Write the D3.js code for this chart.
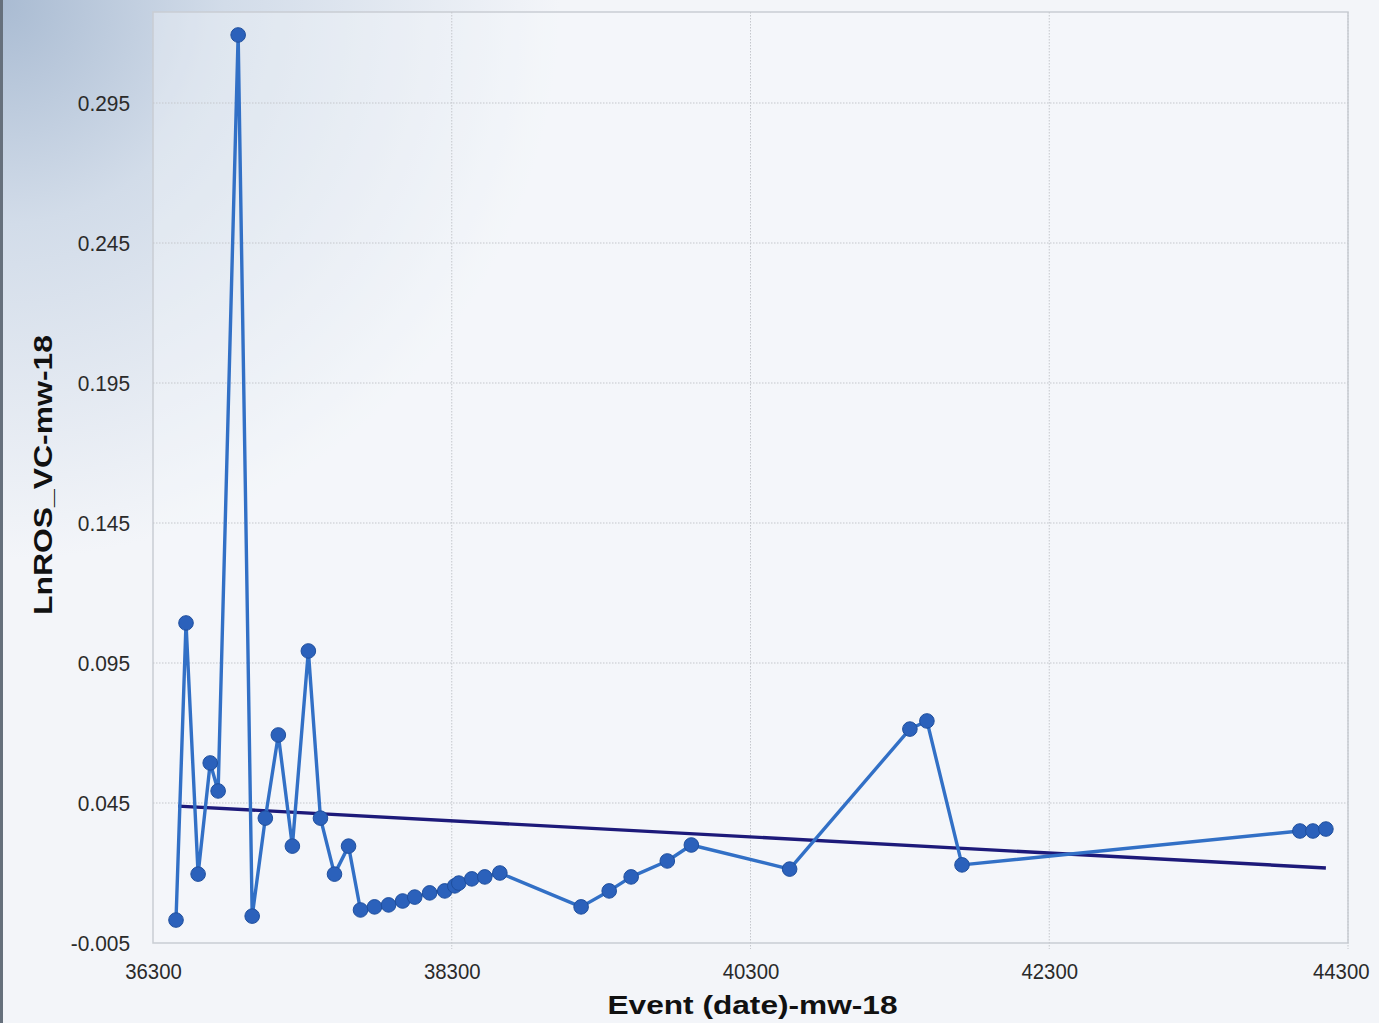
<!DOCTYPE html>
<html>
<head>
<meta charset="utf-8">
<script src="https://cdn.jsdelivr.net/npm/d3@7"></script>
<style>
  html, body { margin: 0; padding: 0; background: #f3f5f9; }
  svg { display: block; }
</style>
</head>
<body>
<svg id="chart" width="1379" height="1023"></svg>
<script>
// Event dates (serial day numbers) and LnROS_VC values, in event order
const eventDates = [
  36454, 36521, 36602, 36683, 36736, 36870, 36964, 37052, 37139, 37233,
  37340, 37421, 37515, 37609, 37689, 37783, 37877, 37971, 38052, 38152,
  38253, 38320, 38347, 38434, 38521, 38622, 39166, 39354, 39501, 39743,
  39904, 40562, 41367, 41481, 41716, 43978, 44065, 44152
];
const lnRosValues = [
  0.0032, 0.1093, 0.0196, 0.0593, 0.0493, 0.3193, 0.0046, 0.0396, 0.0693, 0.0296,
  0.0993, 0.0396, 0.0196, 0.0296, 0.0068, 0.0079, 0.0086, 0.0100, 0.0114, 0.0129,
  0.0136, 0.0154, 0.0164, 0.0179, 0.0186, 0.0200, 0.0079, 0.0136, 0.0186, 0.0243,
  0.0300, 0.0214, 0.0714, 0.0743, 0.0229, 0.0350, 0.0350, 0.0357
];
// Linear trend: start and end of the fitted line
const trendDates = [36468, 44152];
const trendValues = [0.0439, 0.0218];

const xTicks = [36300, 38300, 40300, 42300, 44300];
const yTicks = [-0.005, 0.045, 0.095, 0.145, 0.195, 0.245, 0.295];

const xTitle = "Event (date)-mw-18";
const yTitle = "LnROS_VC-mw-18";

const W = 1379, H = 1023;
const plot = { left: 153, top: 12, right: 1348, bottom: 943 };

const svg = d3.select("#chart");
const defs = svg.append("defs");

// soft bluish glow in the upper-left corner of the panel
const grad = defs.append("radialGradient")
  .attr("id", "corner").attr("gradientUnits", "userSpaceOnUse")
  .attr("cx", 0).attr("cy", 0).attr("r", 560);
grad.append("stop").attr("offset", "0%").attr("stop-color", "#a9bbd2");
grad.append("stop").attr("offset", "40%").attr("stop-color", "#d2dce9");
grad.append("stop").attr("offset", "100%").attr("stop-color", "#f3f5f9");

svg.append("rect").attr("width", W).attr("height", H).attr("fill", "#f3f5f9");
svg.append("rect").attr("width", W).attr("height", H).attr("fill", "url(#corner)");
svg.append("rect").attr("x", 0).attr("y", 0).attr("width", 3).attr("height", H).attr("fill", "#66707c");

const x = d3.scaleLinear().domain([36300, 44300]).range([plot.left, plot.right]);
const y = d3.scaleLinear().domain([-0.005, 0.3275]).range([plot.bottom, plot.top]);

// plot frame
svg.append("rect")
  .attr("x", plot.left).attr("y", plot.top)
  .attr("width", plot.right - plot.left).attr("height", plot.bottom - plot.top)
  .attr("fill", "#f6f8fb").attr("fill-opacity", 0.35)
  .attr("stroke", "#c9cdd3").attr("stroke-width", 1.5);

// grid lines
const grid = svg.append("g");
grid.selectAll("line.h").data(yTicks.slice(1)).join("line")
  .attr("x1", plot.left).attr("x2", plot.right)
  .attr("y1", d => y(d)).attr("y2", d => y(d))
  .attr("stroke", "#c4c7cc").attr("stroke-width", 1).attr("stroke-dasharray", "1.5,1.5");
grid.selectAll("line.v").data(xTicks.slice(1)).join("line")
  .attr("y1", plot.top).attr("y2", plot.bottom + 6)
  .attr("x1", d => x(d)).attr("x2", d => x(d))
  .attr("stroke", "#c4c7cc").attr("stroke-width", 1).attr("stroke-dasharray", "1.5,1.5");

// axes (labels only, no domain path); labels use a condensed setting
const fmtY = d => d.toFixed(3);
const fmtX = d => String(d);
const labelWidth = s => Array.from(s).reduce((w, c) => w + (/[0-9]/.test(c) ? 11.3 : 7), 0);

const yAxis = svg.append("g").attr("transform", `translate(${plot.left - 20},0)`)
  .call(d3.axisLeft(y).tickValues(yTicks).tickFormat(fmtY).tickSize(0));
const xAxis = svg.append("g").attr("transform", `translate(0,${plot.bottom + 19})`)
  .call(d3.axisBottom(x).tickValues(xTicks).tickFormat(fmtX).tickSize(0));
[yAxis, xAxis].forEach(a => {
  a.select(".domain").remove();
  a.selectAll("text")
    .attr("font-family", "'Liberation Sans', Arial, sans-serif").attr("font-size", 22)
    .attr("fill", "#2a2a2a")
    .attr("textLength", function () { return labelWidth(this.textContent); })
    .attr("lengthAdjust", "spacingAndGlyphs");
});
xAxis.selectAll("text").attr("dy", "0.32em").attr("y", 10);
// the last date label is pulled in so it stays inside the panel
xAxis.selectAll(".tick").filter(d => d === xTicks[xTicks.length - 1]).select("text")
  .attr("text-anchor", "end").attr("x", W - 10 - x(xTicks[xTicks.length - 1]));

// axis titles
svg.append("text")
  .attr("x", (plot.left + plot.right) / 2 + 2).attr("y", 1014)
  .attr("text-anchor", "middle")
  .attr("font-family", "'Liberation Sans', Arial, sans-serif").attr("font-weight", "bold")
  .attr("font-size", 26).attr("fill", "#111")
  .attr("textLength", 290).attr("lengthAdjust", "spacingAndGlyphs")
  .text(xTitle);
svg.append("text")
  .attr("transform", "translate(52,475) rotate(-90)")
  .attr("text-anchor", "middle")
  .attr("font-family", "'Liberation Sans', Arial, sans-serif").attr("font-weight", "bold")
  .attr("font-size", 26).attr("fill", "#111")
  .attr("textLength", 280).attr("lengthAdjust", "spacingAndGlyphs")
  .text(yTitle);

// trend line
svg.append("path")
  .datum(d3.zip(trendDates, trendValues))
  .attr("d", d3.line().x(d => x(d[0])).y(d => y(d[1])))
  .attr("fill", "none").attr("stroke", "#1d1a7a").attr("stroke-width", 3.4);

// data series
const pts = d3.zip(eventDates, lnRosValues);
svg.append("path")
  .datum(pts)
  .attr("d", d3.line().x(d => x(d[0])).y(d => y(d[1])))
  .attr("fill", "none").attr("stroke", "#3270c6").attr("stroke-width", 3.4)
  .attr("stroke-linejoin", "round");
svg.append("g").selectAll("circle").data(pts).join("circle")
  .attr("cx", d => x(d[0])).attr("cy", d => y(d[1])).attr("r", 7.3)
  .attr("fill", "#2b61bb").attr("stroke", "#1f4f9e").attr("stroke-width", 1);
</script>
</body>
</html>
